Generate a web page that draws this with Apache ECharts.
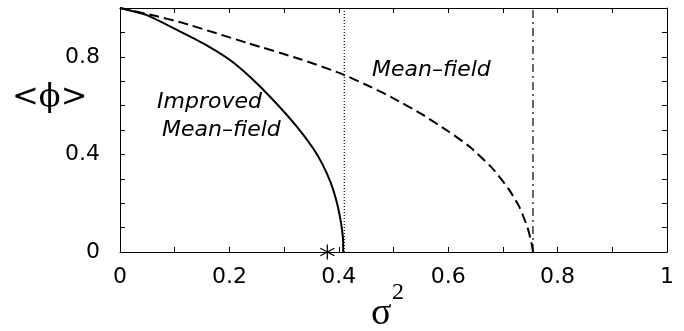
<!DOCTYPE html>
<html>
<head>
<meta charset="utf-8">
<script src="https://cdn.jsdelivr.net/npm/echarts@6/dist/echarts.min.js"></script>
<style>html,body{margin:0;padding:0;background:#fff;}#c{width:684px;height:331px;}</style>
</head>
<body>
<div id="c"></div>
<script>
// Data
const improvedMF = [[0,1],[0.05,0.97],[0.113,0.90],[0.16,0.845],[0.201,0.787],[0.238,0.717],[0.28,0.623],[0.324,0.512],[0.353,0.425],[0.37,0.36],[0.385,0.285],[0.395,0.215],[0.402,0.145],[0.406,0.09],[0.408,0.04],[0.408,0]];
const meanField = [[0,1],[0.06,0.97],[0.113,0.94],[0.234,0.856],[0.33,0.79],[0.402,0.733],[0.46,0.675],[0.5,0.63],[0.55,0.567],[0.6,0.495],[0.64,0.43],[0.68,0.345],[0.71,0.26],[0.73,0.185],[0.745,0.1],[0.752,0.04],[0.755,0]];
const dottedX = 0.41;
const dashDotX = 0.755;
const starPoint = [[0.379,0]];
const xTickLabels = ['0','0.2','0.4','0.6','0.8','1'];
const yTickLabels = ['0','0.4','0.8'];

const chart = echarts.init(document.getElementById('c'));
const font = 'DejaVu Sans, Liberation Sans, sans-serif';
const xFmt = v => { const s = (Math.round(v*10)%2===0) ? (v===0?'0':(Math.abs(v-1)<1e-9?'1':v.toFixed(1))) : ''; return xTickLabels.includes(s)?s:''; };
const yFmt = v => { const s = (Math.round(v*10)%4===0) ? (v===0?'0':v.toFixed(1)) : ''; return yTickLabels.includes(s)?s:''; };
const axisCommon = {
  type:'value', min:0, max:1, interval:0.1,
  axisLine:{show:true, onZero:false, lineStyle:{color:'#000', width:1}},
  axisTick:{show:true, inside:true, length:5, lineStyle:{color:'#000', width:1}},
  splitLine:{show:false}
};
chart.setOption({
  animation:false,
  grid:{left:120, right:17, top:8, bottom:79},
  xAxis:[
    Object.assign({}, axisCommon, {position:'bottom', axisLabel:{formatter:xFmt, fontSize:22, fontFamily:font, color:'#000', margin:14}}),
    Object.assign({}, axisCommon, {position:'top', axisLabel:{show:false}})
  ],
  yAxis:[
    Object.assign({}, axisCommon, {position:'left', axisLabel:{formatter:yFmt, fontSize:22, fontFamily:font, color:'#000', margin:20}}),
    Object.assign({}, axisCommon, {position:'right', axisLabel:{show:false}})
  ],
  series:[
    {type:'line', data:improvedMF, symbol:'none', smooth:0.2, lineStyle:{color:'#000', width:2}, z:3},
    {type:'line', data:meanField, symbol:'none', smooth:0.2, lineStyle:{color:'#000', width:2, type:[10,5]}, z:3},
    {type:'line', data:[[dottedX,0],[dottedX,1]], symbol:'none', lineStyle:{color:'#000', width:1.2, type:[1,2]}},
    {type:'line', data:[[dashDotX,0],[dashDotX,1]], symbol:'none', lineStyle:{color:'#000', width:1.2, type:[8,4,2,4]}},
    {type:'scatter', data:starPoint, clip:false, symbol:'path://M0 -10 L0 10 M-8.66 -5 L8.66 5 M-8.66 5 L8.66 -5', symbolSize:[14,15],
     itemStyle:{color:'#000', borderColor:'#000', borderWidth:1.3, opacity:1}, z:5}
  ],
  graphic:[
    {type:'text', left:372, top:59, style:{text:'Mean\u2013field', font:'oblique 22px '+font, fill:'#000'}},
    {type:'text', left:157, top:91, style:{text:'Improved', font:'oblique 22px '+font, fill:'#000'}},
    {type:'text', left:162, top:119, style:{text:'Mean\u2013field', font:'oblique 22px '+font, fill:'#000'}},
    {type:'text', left:12, top:82, style:{text:'<\u03d5>', font:'32px DejaVu Serif, serif', fill:'#000'}},
    {type:'text', left:371, top:295, style:{text:'\u03c3', font:'38px Liberation Serif, serif', fill:'#000'}},
    {type:'text', left:392, top:281, style:{text:'2', font:'24px Liberation Serif, serif', fill:'#000'}}
  ]
});
</script>
</body>
</html>
